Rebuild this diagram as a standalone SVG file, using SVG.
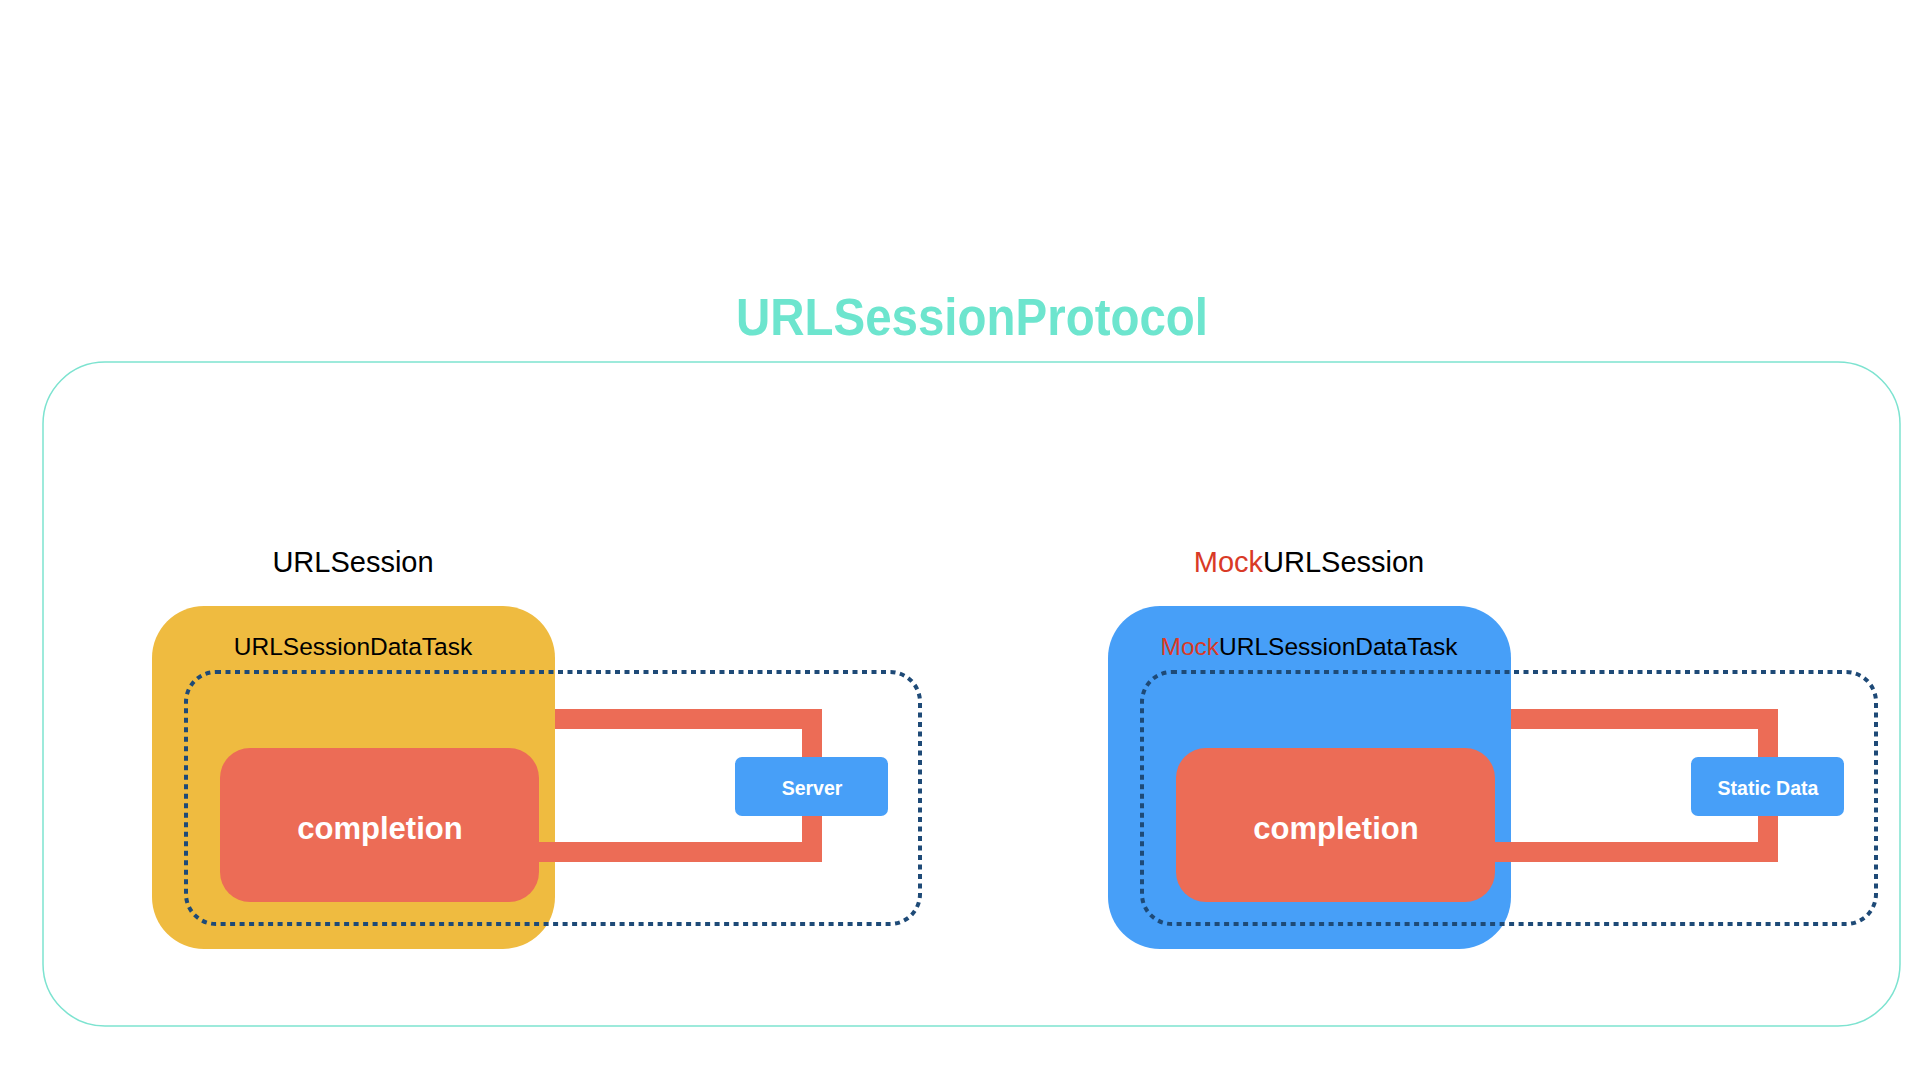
<svg xmlns="http://www.w3.org/2000/svg" width="1920" height="1080" viewBox="0 0 1920 1080">
<style>
.lbl{font-family:"Liberation Sans",Arial,sans-serif;fill:#000;text-anchor:middle}
.mock{fill:#D93A26}
.task{fill:#EFBB40}
.mtask{fill:#479FF8}
.dot{fill:none;stroke:#1E4A77;stroke-width:4;stroke-dasharray:5 4.5}
.comp{fill:#EC6C56}
.ctext{font-family:"Liberation Sans",Arial,sans-serif;font-weight:bold;fill:#fff;text-anchor:middle;font-size:31px}
.src{fill:#479FF8}
.stext{font-family:"Liberation Sans",Arial,sans-serif;font-weight:bold;fill:#fff;text-anchor:middle;font-size:19.5px}
.wire{fill:none;stroke:#EC6C56;stroke-width:20;stroke-linejoin:miter}
</style>
<rect width="1920" height="1080" fill="#fff"/>
<g id="protocol">
<rect x="43" y="362" width="1857" height="664" rx="62" fill="none" stroke="#7DE3D0" stroke-width="1.5"/>
<text x="972" y="335" font-family="Liberation Sans,Arial,sans-serif" font-weight="bold" font-size="51" fill="#6DE5CE" text-anchor="middle" textLength="472" lengthAdjust="spacingAndGlyphs">URLSessionProtocol</text>
</g>
<g id="urlsession">
<text class="lbl" x="353" y="572" font-size="29">URLSession</text>
</g>
<g id="mockurlsession">
<text class="lbl" x="1309" y="572" font-size="29"><tspan class="mock">Mock</tspan>URLSession</text>
</g>
<g id="datatask">
<rect class="task" x="152" y="606" width="403" height="343" rx="52"/>
<text class="lbl" x="353" y="655" font-size="24.5">URLSessionDataTask</text>
</g>
<g id="mockdatatask">
<rect class="mtask" x="1108" y="606" width="403" height="343" rx="52"/>
<text class="lbl" x="1309" y="655" font-size="24.5"><tspan class="mock">Mock</tspan>URLSessionDataTask</text>
</g>
<g id="connectors">
<path class="wire" d="M555,719 H812 V852 H539"/>
<path class="wire" d="M1511,719 H1768 V852 H1495"/>
</g>
<g id="boundary-left">
<rect class="dot" x="186" y="672" width="734" height="252" rx="30"/>
</g>
<g id="boundary-right">
<rect class="dot" x="1142" y="672" width="734" height="252" rx="30"/>
</g>
<g id="completion-left">
<rect class="comp" x="220" y="748" width="319" height="154" rx="30"/>
<text class="ctext" x="380" y="839">completion</text>
</g>
<g id="completion-right">
<rect class="comp" x="1176" y="748" width="319" height="154" rx="30"/>
<text class="ctext" x="1336" y="839">completion</text>
</g>
<g id="server">
<rect class="src" x="735" y="757" width="153" height="59" rx="7"/>
<text class="stext" x="812" y="795">Server</text>
</g>
<g id="staticdata">
<rect class="src" x="1691" y="757" width="153" height="59" rx="7"/>
<text class="stext" x="1768" y="795">Static Data</text>
</g>
</svg>
